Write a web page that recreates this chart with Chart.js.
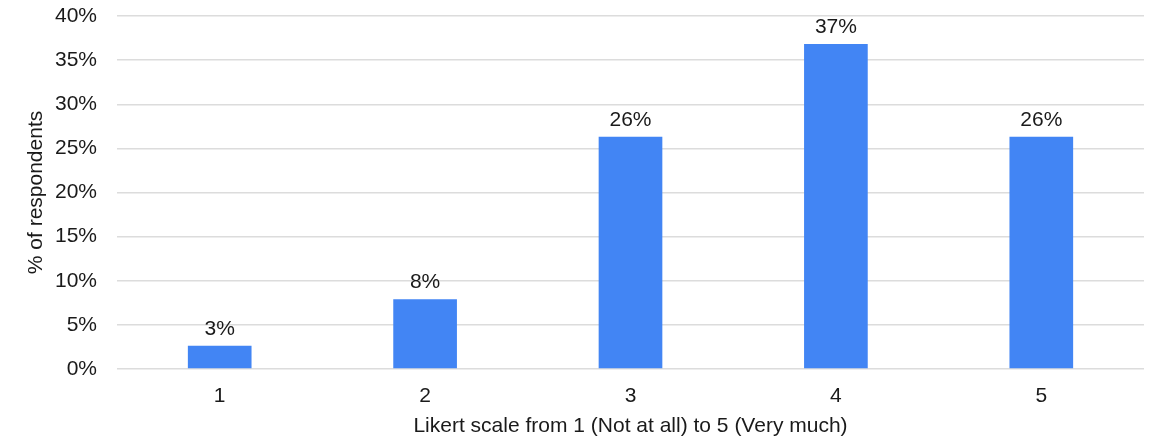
<!DOCTYPE html>
<html>
<head>
<meta charset="utf-8">
<script src="https://cdn.jsdelivr.net/npm/chart.js@4"></script>
<style>
  html, body { margin: 0; padding: 0; background: #fff; }
  #wrap { width: 1159px; height: 444px; }
</style>
</head>
<body>
<div id="wrap"><canvas id="likertChart" width="1159" height="444"></canvas></div>
<script>
// Chart data
const categories = ["1", "2", "3", "4", "5"];
const respondentShare = [2.63, 7.89, 26.32, 36.84, 26.32]; // % of respondents
const shareLabels = ["3%", "8%", "26%", "37%", "26%"];
const yTicks = [0, 5, 10, 15, 20, 25, 30, 35, 40];

const FONT = "'Liberation Sans', Arial, sans-serif";
const FSIZE = 21;

// draw the value text above each bar
const barLabels = {
  id: "barLabels",
  afterDatasetsDraw(chart) {
    const ctx = chart.ctx;
    const meta = chart.getDatasetMeta(0);
    ctx.save();
    ctx.font = FSIZE + "px " + FONT;
    ctx.fillStyle = "#1a1a1a";
    ctx.textAlign = "center";
    ctx.textBaseline = "alphabetic";
    meta.data.forEach((bar, i) => {
      ctx.fillText(shareLabels[i], bar.x, bar.y - 11);
    });
    ctx.restore();
  }
};

const ctx = document.getElementById("likertChart").getContext("2d");
new Chart(ctx, {
  type: "bar",
  data: {
    labels: categories,
    datasets: [{
      data: respondentShare,
      backgroundColor: "#4285F4",
      barPercentage: 0.31,
      categoryPercentage: 1
    }]
  },
  options: {
    responsive: false,
    animation: false,
    layout: { padding: { top: 16, right: 15, bottom: 0, left: 0 } },
    plugins: {
      legend: { display: false },
      tooltip: { enabled: false }
    },
    scales: {
      x: {
        grid: { display: false, drawTicks: false },
        border: { display: false },
        ticks: { color: "#1a1a1a", font: { family: FONT, size: FSIZE }, padding: 15 },
        title: {
          display: true,
          text: "Likert scale from 1 (Not at all) to 5 (Very much)",
          color: "#1a1a1a",
          font: { family: FONT, size: FSIZE },
          padding: { top: 0, bottom: 5 }
        },
        afterFit: axis => {
          axis.height = 75;
          axis.paddingLeft = 0;
          axis.paddingRight = 0;
        }
      },
      y: {
        min: 0,
        max: 40,
        afterBuildTicks: axis => { axis.ticks = yTicks.map(v => ({ value: v })); },
        grid: { color: "#dcdcdc", lineWidth: 1.5, drawTicks: false },
        border: { display: false },
        ticks: {
          color: "#1a1a1a",
          font: { family: FONT, size: FSIZE },
          padding: 20,
          callback: v => v + "%"
        },
        title: {
          display: true,
          text: "% of respondents",
          color: "#1a1a1a",
          font: { family: FONT, size: FSIZE },
          padding: { top: 24, bottom: 0 }
        },
        afterFit: axis => {
          axis.width = 117;
          axis.paddingTop = 0;
          axis.paddingBottom = 0;
        }
      }
    }
  },
  plugins: [barLabels]
});
</script>
</body>
</html>
